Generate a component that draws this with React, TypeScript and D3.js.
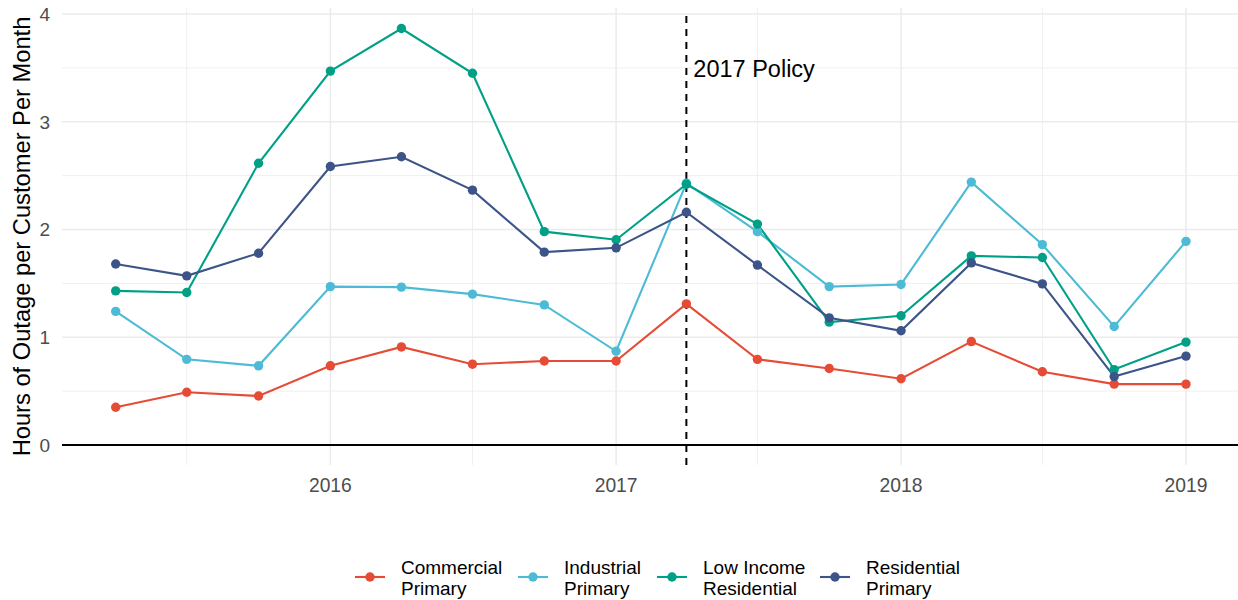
import React from "react";
import * as d3 from "d3";

const dateStrings = [
  "2015-04-01", "2015-07-01", "2015-10-01", "2016-01-01",
  "2016-04-01", "2016-07-01", "2016-10-01", "2017-01-01",
  "2017-04-01", "2017-07-01", "2017-10-01", "2018-01-01",
  "2018-04-01", "2018-07-01", "2018-10-01", "2019-01-01",
];
const commercialPrimary = [0.35, 0.49, 0.455, 0.735, 0.91, 0.75, 0.78, 0.78, 1.31, 0.795, 0.71, 0.615, 0.96, 0.68, 0.565, 0.565];
const industrialPrimary = [1.24, 0.795, 0.735, 1.47, 1.465, 1.4, 1.3, 0.87, 2.43, 1.98, 1.47, 1.49, 2.44, 1.86, 1.1, 1.89];
const lowIncomeResidential = [1.43, 1.415, 2.615, 3.47, 3.865, 3.45, 1.98, 1.905, 2.42, 2.05, 1.14, 1.2, 1.755, 1.74, 0.7, 0.955];
const residentialPrimary = [1.68, 1.57, 1.78, 2.585, 2.675, 2.365, 1.79, 1.83, 2.16, 1.67, 1.18, 1.06, 1.69, 1.495, 0.635, 0.825];

const seriesNames = [
  ["Commercial", "Primary"],
  ["Industrial", "Primary"],
  ["Low Income", "Residential"],
  ["Residential", "Primary"],
];
const seriesColors = ["#E64B35", "#4DBBD5", "#00A087", "#3C5488"];
const seriesValues = [commercialPrimary, industrialPrimary, lowIncomeResidential, residentialPrimary];

const yTicks = [0, 1, 2, 3, 4];
const yMinor = [0.5, 1.5, 2.5, 3.5];
const xTickYears = ["2016", "2017", "2018", "2019"];
const xMinorDates = ["2015-07-01", "2016-07-01", "2017-07-01", "2018-07-01"];
const policyDate = "2017-04-01";
const policyLabel = "2017 Policy";
const yTitle = "Hours of Outage per Customer Per Month";

// layout
const W = 1238;
const H = 600;
const panelLeft = 62;
const panelRight = 1238;
const panelTop = 8;
const panelBottom = 465;
const legendKeyX = [370, 533, 672, 835];
const FONT = "'Liberation Sans', Arial, Helvetica, sans-serif";

export default function App() {
  const dates = dateStrings.map((s) => new Date(s + "T00:00:00Z"));
  const x = d3
    .scaleUtc()
    .domain([dates[0], dates[dates.length - 1]])
    .range([115.7, 1186]);
  const y = d3.scaleLinear().domain([0, 4]).range([445, 14]);

  const line = d3
    .line<number>()
    .x((_, i) => x(dates[i]))
    .y((v) => y(v));

  const xMajor = xTickYears.map((yr) => new Date(yr + "-01-01T00:00:00Z"));
  const xMinor = xMinorDates.map((s) => new Date(s + "T00:00:00Z"));
  const policyX = x(new Date(policyDate + "T00:00:00Z"));

  return (
    <svg
      width={W}
      height={H}
      style={{ position: "absolute", left: 0, top: 0, background: "#fff" }}
      fontFamily={FONT}
    >
      <rect x={0} y={0} width={W} height={H} fill="#fff" />
      {/* grid minor */}
      {yMinor.map((v) => (
        <line key={"ym" + v} x1={panelLeft} x2={panelRight} y1={y(v)} y2={y(v)} stroke="#ebebeb" strokeWidth={0.8} />
      ))}
      {xMinor.map((d, i) => (
        <line key={"xm" + i} x1={x(d)} x2={x(d)} y1={panelTop} y2={panelBottom} stroke="#ebebeb" strokeWidth={0.8} />
      ))}
      {/* grid major */}
      {yTicks.map((v) => (
        <line key={"yM" + v} x1={panelLeft} x2={panelRight} y1={y(v)} y2={y(v)} stroke="#ebebeb" strokeWidth={1.5} />
      ))}
      {xMajor.map((d, i) => (
        <line key={"xM" + i} x1={x(d)} x2={x(d)} y1={panelTop} y2={panelBottom} stroke="#ebebeb" strokeWidth={1.5} />
      ))}
      {/* zero line */}
      <line x1={panelLeft} x2={panelRight} y1={y(0)} y2={y(0)} stroke="#000" strokeWidth={2.2} />
      {/* policy line */}
      <line
        x1={policyX}
        x2={policyX}
        y1={panelBottom}
        y2={panelTop + 4}
        stroke="#000"
        strokeWidth={2}
        strokeDasharray="7,6"
      />
      <text x={policyX + 7} y={77} fontSize={23.5} fill="#000">
        {policyLabel}
      </text>
      {/* lines */}
      {seriesValues.map((vals, si) => (
        <path key={"l" + si} d={line(vals) || ""} fill="none" stroke={seriesColors[si]} strokeWidth={2.1} />
      ))}
      {/* points */}
      {seriesValues.map((vals, si) =>
        vals.map((v, i) => (
          <circle key={"p" + si + "-" + i} cx={x(dates[i])} cy={y(v)} r={4.7} fill={seriesColors[si]} />
        ))
      )}
      {/* y ticks */}
      {yTicks.map((v) => (
        <text key={"yt" + v} x={50} y={y(v) + 6.8} fontSize={19} fill="#4d4d4d" textAnchor="end">
          {v}
        </text>
      ))}
      {/* x ticks */}
      {xMajor.map((d, i) => (
        <text key={"xt" + i} x={x(d)} y={491.5} fontSize={19.3} fill="#4d4d4d" textAnchor="middle">
          {xTickYears[i]}
        </text>
      ))}
      {/* y title */}
      <text
        transform={`translate(${30},${(panelTop + panelBottom) / 2}) rotate(-90)`}
        fontSize={23.7}
        fill="#000"
        textAnchor="middle"
      >
        {yTitle}
      </text>
      {/* legend */}
      {seriesNames.map((lines, si) => {
        const cx = legendKeyX[si];
        return (
          <g key={"lg" + si}>
            <line x1={cx - 15} x2={cx + 15} y1={577} y2={577} stroke={seriesColors[si]} strokeWidth={2.1} />
            <circle cx={cx} cy={577} r={4.7} fill={seriesColors[si]} />
            <text x={cx + 31} y={574} fontSize={19} fill="#000">
              {lines[0]}
            </text>
            <text x={cx + 31} y={595} fontSize={19} fill="#000">
              {lines[1]}
            </text>
          </g>
        );
      })}
    </svg>
  );
}
